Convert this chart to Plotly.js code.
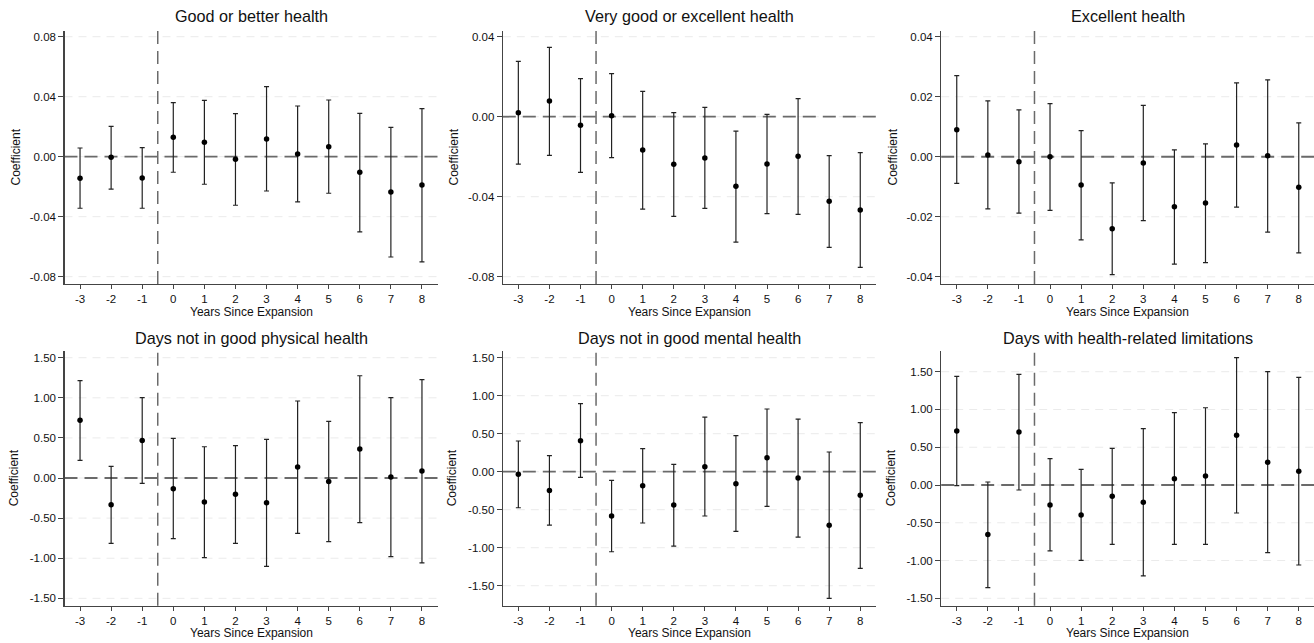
<!DOCTYPE html>
<html>
<head>
<meta charset="utf-8">
<script src="https://cdn.plot.ly/plotly-3.0.1.min.js"></script>
<style>html,body{margin:0;padding:0;background:#fff;}#chart{width:1314px;height:643px;}</style>
</head>
<body>
<div id="chart"></div>
<script>
// ---- data ----
const years = [-3, -2, -1, 0, 1, 2, 3, 4, 5, 6, 7, 8];
const yearLabels = ['-3', '-2', '-1', '0', '1', '2', '3', '4', '5', '6', '7', '8'];

const panelTitles = [
  'Good or better health',
  'Very good or excellent health',
  'Excellent health',
  'Days not in good physical health',
  'Days not in good mental health',
  'Days with health-related limitations'
];

const goodCoef  = [-0.0144, -0.0004, -0.0142, 0.0129, 0.0096, -0.0018, 0.0118, 0.0018, 0.0067, -0.0104, -0.0236, -0.0189];
const goodUpper = [0.0058, 0.0202, 0.0060, 0.0360, 0.0376, 0.0287, 0.0467, 0.0338, 0.0378, 0.0289, 0.0196, 0.0320];
const goodLower = [-0.0344, -0.0216, -0.0344, -0.0104, -0.0184, -0.0324, -0.0229, -0.0302, -0.0244, -0.0502, -0.0669, -0.0702];

const vgoodCoef  = [0.0020, 0.0078, -0.0043, 0.0005, -0.0167, -0.0238, -0.0207, -0.0348, -0.0237, -0.0198, -0.0423, -0.0467];
const vgoodUpper = [0.0277, 0.0347, 0.0190, 0.0215, 0.0127, 0.0020, 0.0047, -0.0072, 0.0012, 0.0090, -0.0195, -0.0180];
const vgoodLower = [-0.0237, -0.0193, -0.0278, -0.0205, -0.0462, -0.0498, -0.0458, -0.0627, -0.0485, -0.0488, -0.0653, -0.0753];

const excCoef  = [0.0090, 0.0006, -0.0017, 0.0000, -0.0094, -0.0240, -0.0021, -0.0167, -0.0154, 0.0039, 0.0003, -0.0102];
const excUpper = [0.0270, 0.0186, 0.0156, 0.0177, 0.0087, -0.0087, 0.0171, 0.0023, 0.0043, 0.0246, 0.0256, 0.0113];
const excLower = [-0.0089, -0.0174, -0.0188, -0.0179, -0.0277, -0.0393, -0.0213, -0.0358, -0.0353, -0.0168, -0.0251, -0.0320];

const physCoef  = [0.719, -0.332, 0.469, -0.133, -0.299, -0.204, -0.307, 0.137, -0.042, 0.361, 0.012, 0.087];
const physUpper = [1.213, 0.145, 1.001, 0.494, 0.390, 0.403, 0.482, 0.960, 0.706, 1.275, 1.001, 1.226];
const physLower = [0.220, -0.814, -0.066, -0.756, -0.993, -0.814, -1.101, -0.690, -0.794, -0.557, -0.980, -1.059];

const mentCoef  = [-0.035, -0.246, 0.408, -0.583, -0.184, -0.439, 0.066, -0.158, 0.184, -0.083, -0.706, -0.311];
const mentUpper = [0.404, 0.211, 0.895, -0.114, 0.303, 0.096, 0.719, 0.474, 0.825, 0.693, 0.259, 0.645];
const mentLower = [-0.474, -0.702, -0.075, -1.053, -0.675, -0.978, -0.583, -0.785, -0.456, -0.860, -1.667, -1.272];

const limCoef  = [0.715, -0.657, 0.701, -0.265, -0.397, -0.150, -0.229, 0.084, 0.119, 0.657, 0.300, 0.181];
const limUpper = [1.438, 0.040, 1.465, 0.348, 0.207, 0.485, 0.745, 0.957, 1.023, 1.685, 1.500, 1.425];
const limLower = [-0.009, -1.359, -0.066, -0.873, -0.997, -0.785, -1.204, -0.785, -0.785, -0.371, -0.895, -1.059];

const ticksGood  = [-0.08, -0.04, 0, 0.04, 0.08];
const ticksGoodText  = ['-0.08', '-0.04', '0.00', '0.04', '0.08'];
const ticksVgood = [-0.08, -0.04, 0, 0.04];
const ticksVgoodText = ['-0.08', '-0.04', '0.00', '0.04'];
const ticksExc   = [-0.04, -0.02, 0, 0.02, 0.04];
const ticksExcText   = ['-0.04', '-0.02', '0.00', '0.02', '0.04'];
const ticksDays  = [-1.5, -1, -0.5, 0, 0.5, 1, 1.5];
const ticksDaysText  = ['-1.50', '-1.00', '-0.50', '0.00', '0.50', '1.00', '1.50'];

const xAxisTitle = 'Years Since Expansion';
const yAxisTitle = 'Coefficient';
const expansionLine = -0.5;

// ---- layout geometry ----
const W = 1314, H = 643;
const FONT = '"Liberation Sans", Arial, Helvetica, sans-serif';
const colsPx = [[64.5, 437.5], [502.8, 875.8], [941.2, 1314]];
const rowsPx = [[31, 284], [351, 605.7]];
const xRanges = [[-3.5, 8.5], [-3.5, 8.5], [-3.5, 8.49]];

const panels = [
  {coef: goodCoef, lo: goodLower, hi: goodUpper, yr: [-0.0849, 0.0838], tv: ticksGood, tt: ticksGoodText},
  {coef: vgoodCoef, lo: vgoodLower, hi: vgoodUpper, yr: [-0.08365, 0.04285], tv: ticksVgood, tt: ticksVgoodText},
  {coef: excCoef, lo: excLower, hi: excUpper, yr: [-0.0424, 0.0419], tv: ticksExc, tt: ticksExcText},
  {coef: physCoef, lo: physLower, hi: physUpper, yr: [-1.592, 1.5835], tv: ticksDays, tt: ticksDaysText},
  {coef: mentCoef, lo: mentLower, hi: mentUpper, yr: [-1.763, 1.588], tv: ticksDays, tt: ticksDaysText},
  {coef: limCoef, lo: limLower, hi: limUpper, yr: [-1.598, 1.774], tv: ticksDays, tt: ticksDaysText}
];
const yTitleX = [[15, 453, 892], [14, 452, 891]];

const traces = [];
const layout = {
  width: W, height: H, autosize: false,
  margin: {l: 0, r: 0, t: 0, b: 0, pad: 0},
  paper_bgcolor: '#fff', plot_bgcolor: '#fff',
  showlegend: false,
  font: {family: FONT, size: 11.5, color: '#111'},
  annotations: [], shapes: []
};

panels.forEach((p, i) => {
  const r = Math.floor(i / 3), c = i % 3;
  const n = i + 1;
  const xa = n === 1 ? 'x' : 'x' + n;
  const ya = n === 1 ? 'y' : 'y' + n;
  const xd = [colsPx[c][0] / W, colsPx[c][1] / W];
  const yd = [1 - rowsPx[r][1] / H, 1 - rowsPx[r][0] / H];

  traces.push({
    type: 'scatter', mode: 'markers', x: years, y: p.coef,
    xaxis: xa, yaxis: ya,
    marker: {color: '#000', size: 5.5},
    error_y: {
      type: 'data', symmetric: false,
      array: p.hi.map((h, k) => h - p.coef[k]),
      arrayminus: p.lo.map((l, k) => p.coef[k] - l),
      color: '#222', thickness: 1.2, width: 2.5
    },
    hoverinfo: 'x+y'
  });

  layout['xaxis' + (n === 1 ? '' : n)] = {
    domain: xd, anchor: ya, range: xRanges[c],
    tickvals: years, ticktext: yearLabels,
    showgrid: false, zeroline: false,
    showline: true, linecolor: '#444', linewidth: 1.2,
    ticks: 'outside', ticklen: 4, tickcolor: '#444', tickwidth: 1,
    tickfont: {family: FONT, size: 11.5, color: '#111'}
  };
  layout['yaxis' + (n === 1 ? '' : n)] = {
    domain: yd, anchor: xa, range: p.yr,
    tickvals: p.tv, ticktext: p.tt,
    showgrid: false, zeroline: false,
    showline: true, linecolor: '#444', linewidth: 1.2,
    ticks: 'outside', ticklen: 5, tickcolor: '#444', tickwidth: 1,
    tickfont: {family: FONT, size: 11.5, color: '#111'}
  };

  // light dashed gridlines at the y ticks (drawn as shapes so the reference lines sit above them)
  p.tv.forEach(v => {
    layout.shapes.push({
      type: 'line', xref: xa + ' domain', yref: ya,
      x0: 0, x1: 1, y0: v, y1: v, layer: 'below',
      line: {color: '#ebebeb', width: 1, dash: '8px,6px'}
    });
  });
  // zero reference line
  layout.shapes.push({
    type: 'line', xref: xa + ' domain', yref: ya,
    x0: 0, x1: 1, y0: 0, y1: 0, layer: 'below',
    line: {color: '#6a6a6a', width: 1.8, dash: '13px,7px'}
  });
  // expansion line
  layout.shapes.push({
    type: 'line', xref: xa, yref: ya + ' domain',
    x0: expansionLine, x1: expansionLine, y0: 0, y1: 1, layer: 'below',
    line: {color: '#6a6a6a', width: 1.5, dash: '13px,7px'}
  });

  const cx = (xd[0] + xd[1]) / 2;
  // panel title
  layout.annotations.push({
    text: panelTitles[i], xref: 'paper', yref: 'paper',
    x: cx, y: 1 - (r === 0 ? 16 : 337.5) / H,
    xanchor: 'center', yanchor: 'middle', showarrow: false,
    font: {family: FONT, size: 16.2, color: '#111'}
  });
  // x-axis title
  layout.annotations.push({
    text: xAxisTitle, xref: 'paper', yref: 'paper',
    x: cx, y: 1 - (r === 0 ? 311.5 : 632.5) / H,
    xanchor: 'center', yanchor: 'middle', showarrow: false,
    font: {family: FONT, size: 12, color: '#111'}
  });
  // y-axis title
  layout.annotations.push({
    text: yAxisTitle, xref: 'paper', yref: 'paper',
    x: yTitleX[r][c] / W, y: (yd[0] + yd[1]) / 2,
    xanchor: 'center', yanchor: 'middle', showarrow: false, textangle: -90,
    font: {family: FONT, size: 12, color: '#111'}
  });
});

Plotly.newPlot('chart', traces, layout, {displayModeBar: false, staticPlot: true});
</script>
</body>
</html>
